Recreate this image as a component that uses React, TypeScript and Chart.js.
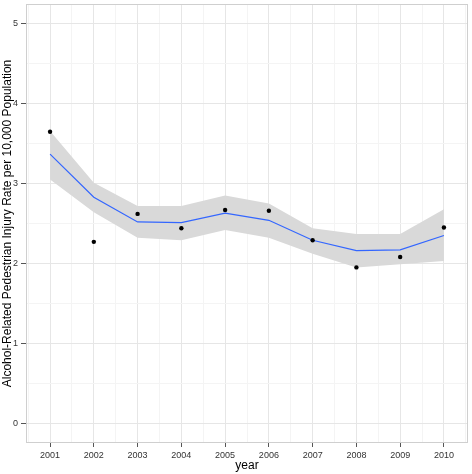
import React, { useEffect, useRef } from "react";
import { Chart, registerables } from "chart.js";

Chart.register(...registerables);

const years = [2001, 2002, 2003, 2004, 2005, 2006, 2007, 2008, 2009, 2010];
const observed = [3.65, 2.27, 2.62, 2.44, 2.67, 2.66, 2.29, 1.95, 2.08, 2.45];
const fitted = [3.37, 2.83, 2.52, 2.51, 2.63, 2.54, 2.29, 2.16, 2.17, 2.35];
const upperBand = [3.66, 3.01, 2.72, 2.72, 2.85, 2.75, 2.44, 2.37, 2.37, 2.68];
const lowerBand = [3.05, 2.64, 2.32, 2.29, 2.42, 2.32, 2.12, 1.95, 1.99, 2.03];
const yMajorTicks = [0, 1, 2, 3, 4, 5];
const yMinorTicks = [0.5, 1.5, 2.5, 3.5, 4.5];
const xMinorTicks = [2000.5, 2001.5, 2002.5, 2003.5, 2004.5, 2005.5, 2006.5, 2007.5, 2008.5, 2009.5, 2010.5];

const FONT = "'Liberation Sans', Arial, Helvetica, sans-serif";
const isMajor = (v: number) => Math.abs(v - Math.round(v)) < 1e-9;

const borderPlugin = {
  id: "panelBorder",
  beforeDatasetsDraw(chart: any) {
    const { ctx, chartArea } = chart;
    ctx.save();
    ctx.strokeStyle = "#cfcfcf";
    ctx.lineWidth = 1;
    ctx.strokeRect(
      Math.round(chartArea.left) + 0.5,
      Math.round(chartArea.top) + 0.5,
      Math.round(chartArea.right - chartArea.left) - 1,
      Math.round(chartArea.bottom - chartArea.top) - 1
    );
    ctx.restore();
  },
};

export default function App() {
  const ref = useRef<HTMLCanvasElement | null>(null);

  useEffect(() => {
    if (!ref.current) return;
    const pts = (arr: number[]) => years.map((x, i) => ({ x, y: arr[i] }));
    const chart = new Chart(ref.current, {
      type: "line",
      data: {
        datasets: [
          {
            label: "observed",
            type: "scatter",
            data: pts(observed),
            showLine: false,
            pointRadius: 2.2,
            pointBackgroundColor: "#000000",
            pointBorderWidth: 0,
            order: 0,
          } as any,
          {
            label: "fit",
            data: pts(fitted),
            borderColor: "#3366FF",
            borderWidth: 1.2,
            pointRadius: 0,
            fill: false,
            tension: 0,
            order: 1,
          },
          {
            label: "upper",
            data: pts(upperBand),
            borderWidth: 0,
            borderColor: "rgba(0,0,0,0)",
            backgroundColor: "#d9d9d9",
            pointRadius: 0,
            fill: "+1",
            tension: 0,
            order: 2,
          },
          {
            label: "lower",
            data: pts(lowerBand),
            borderWidth: 0,
            borderColor: "rgba(0,0,0,0)",
            pointRadius: 0,
            fill: false,
            tension: 0,
            order: 3,
          },
        ],
      },
      options: {
        animation: false,
        responsive: false,
        devicePixelRatio: 1,
        layout: { padding: { top: 2, right: 4, left: 0, bottom: 0 } },
        plugins: {
          legend: { display: false },
          tooltip: { enabled: false },
        },
        scales: {
          x: {
            type: "linear",
            min: 2000.45,
            max: 2010.55,
            afterBuildTicks: (scale: any) => {
              scale.ticks = [...years, ...xMinorTicks]
                .sort((a, b) => a - b)
                .map((v) => ({ value: v }));
            },
            afterFit: (scale: any) => {
              scale.height = 31;
              scale.paddingLeft = 0;
              scale.paddingRight = 0;
            },
            border: { display: false },
            grid: {
              color: (c: any) => (isMajor(c.tick.value) ? "#e6e6e6" : "#f4f4f4"),
              tickColor: (c: any) => (isMajor(c.tick.value) ? "#555555" : "rgba(0,0,0,0)"),
              tickLength: 4,
              lineWidth: 1,
            },
            ticks: {
              autoSkip: false,
              maxRotation: 0,
              padding: 3,
              color: "#333333",
              font: { family: FONT, size: 9 },
              callback: (v: any) => (isMajor(Number(v)) ? String(Math.round(Number(v))) : ""),
            },
            title: {
              display: true,
              text: "year",
              color: "#000000",
              font: { family: FONT, size: 12 },
              padding: { top: 0, bottom: 1 },
            },
          },
          y: {
            type: "linear",
            min: -0.25,
            max: 5.25,
            afterBuildTicks: (scale: any) => {
              scale.ticks = [...yMajorTicks, ...yMinorTicks]
                .sort((a, b) => a - b)
                .map((v) => ({ value: v }));
            },
            afterFit: (scale: any) => {
              scale.width = 26;
              scale.paddingTop = 0;
              scale.paddingBottom = 0;
            },
            border: { display: false },
            grid: {
              color: (c: any) => (isMajor(c.tick.value) ? "#e6e6e6" : "#f4f4f4"),
              tickColor: (c: any) => (isMajor(c.tick.value) ? "#555555" : "rgba(0,0,0,0)"),
              tickLength: 5,
              lineWidth: 1,
            },
            ticks: {
              autoSkip: false,
              padding: 3,
              color: "#333333",
              font: { family: FONT, size: 9 },
              callback: (v: any) => (isMajor(Number(v)) ? String(Math.round(Number(v))) : ""),
            },
            title: {
              display: true,
              text: "Alcohol-Related Pedestrian Injury Rate per 10,000 Population",
              color: "#000000",
              font: { family: FONT, size: 12 },
              padding: { top: 0, bottom: 0 },
            },
          },
        },
      },
      plugins: [borderPlugin],
    });
    return () => chart.destroy();
  }, []);

  return (
    <div style={{ position: "absolute", left: 0, top: 0, width: 472, height: 474, background: "#ffffff" }}>
      <canvas ref={ref} width={472} height={474} style={{ display: "block" }} />
    </div>
  );
}
